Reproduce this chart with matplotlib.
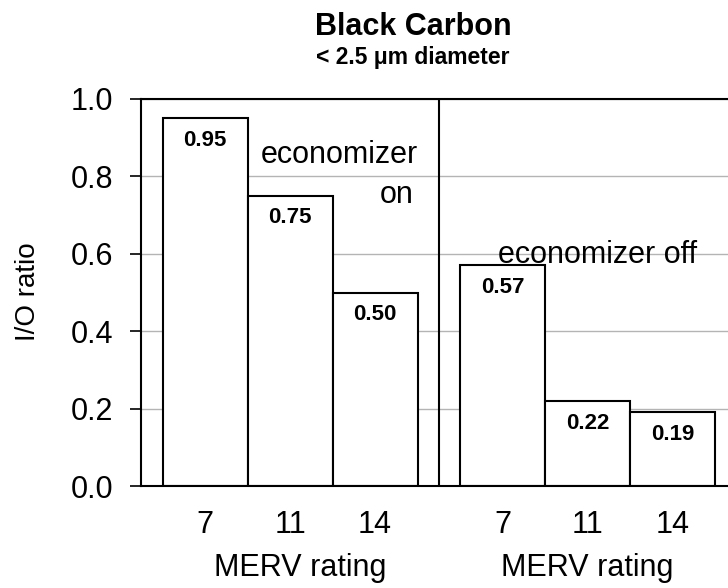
import matplotlib
matplotlib.use("Agg")
import matplotlib.pyplot as plt
from matplotlib.transforms import blended_transform_factory

plt.rcParams['font.family'] = ['Liberation Sans', 'DejaVu Sans']

merv = ['7', '11', '14']
econ_on = [0.95, 0.75, 0.50]
econ_off = [0.57, 0.22, 0.19]
yticks = [0.0, 0.2, 0.4, 0.6, 0.8, 1.0]

x_on = [0, 1, 2]
x_off = [3.5, 4.5, 5.5]
divider = 2.753

BIG = 22

fig = plt.figure(figsize=(7.28, 5.88), dpi=100)
ax = fig.add_axes([141/728, 1-486/588, 1-141/728, (486-99)/588])

ax.set_ylim(0, 1.0)
ax.set_xlim(-0.753, 6.153)
ax.set_yticks(yticks)
ax.set_yticklabels([f"{v:.1f}" for v in yticks])
ax.yaxis.grid(True, color='#b4b4b4', lw=1.0, zorder=0)
ax.set_axisbelow(True)

for xs, vals in ((x_on, econ_on), (x_off, econ_off)):
    ax.bar(xs, vals, width=1.0, color='white', edgecolor='black', lw=1.5, zorder=2)
    for x, v in zip(xs, vals):
        ax.annotate(f"{v:.2f}", (x, v), xytext=(0, -16), textcoords='offset points',
                    ha='center', va='center', fontsize=16, fontweight='bold', zorder=3)

ax.axvline(divider, color='black', lw=1.5, zorder=3)

ax.set_xticks(x_on + x_off)
ax.set_xticklabels(merv + merv, fontsize=BIG)
ax.tick_params(axis='x', length=0, pad=17)
ax.tick_params(axis='y', labelsize=BIG, length=8, width=1.2, pad=12, direction='out')

for s in ('left', 'top', 'bottom'):
    ax.spines[s].set_linewidth(1.5)
ax.spines['right'].set_visible(False)

trans = blended_transform_factory(ax.transData, ax.transAxes)
ax.text(1.12, -0.2326, 'MERV rating', transform=trans, ha='center', va='baseline', fontsize=BIG)
ax.text(x_off[1], -0.2326, 'MERV rating', transform=trans, ha='center', va='baseline', fontsize=BIG)

ax.text(2.506, 0.855, 'economizer', ha='right', va='center', fontsize=BIG)
ax.text(2.45, 0.752, 'on', ha='right', va='center', fontsize=BIG)
ax.text(4.62, 0.597, 'economizer off', ha='center', va='center', fontsize=BIG)

fig.text(28/728, 1-292/588, 'I/O ratio', rotation=90, ha='center', va='center', fontsize=20)
fig.text(413/728, 1-35/588, 'Black Carbon', ha='center', va='baseline', fontsize=22, fontweight='bold')
fig.text(413/728, 1-64/588, '< 2.5 \u03bcm diameter', ha='center', va='baseline', fontsize=16.5, fontweight='bold')

fig.savefig('out.png', dpi=100)
